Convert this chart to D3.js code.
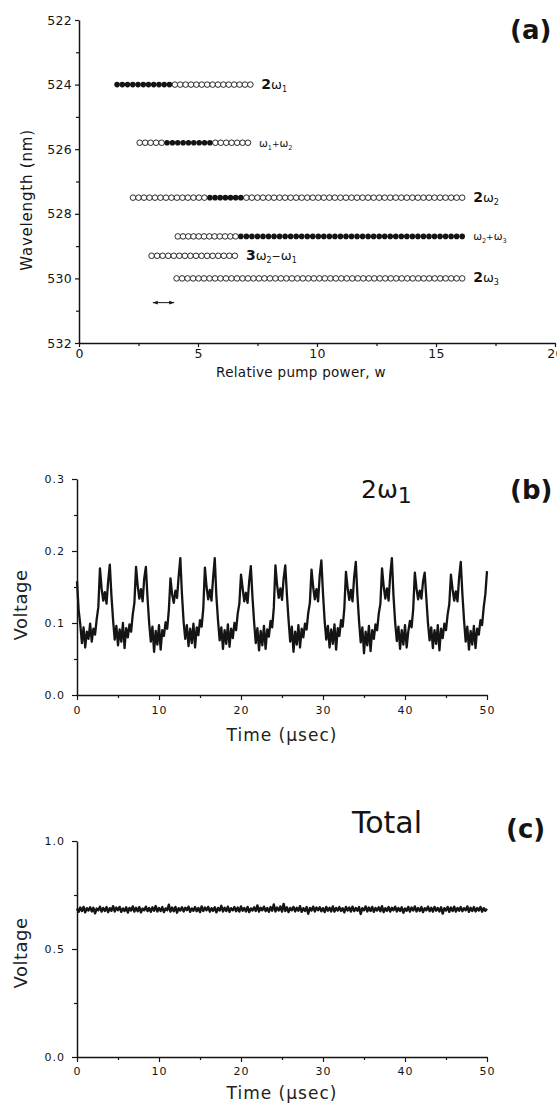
<!DOCTYPE html>
<html>
<head>
<meta charset="utf-8">
<script src="https://cdn.jsdelivr.net/npm/d3@7"></script>
<style>
  html, body { margin: 0; padding: 0; background: #fff; }
  svg { display: block; }
</style>
</head>
<body>
<svg id="fig" width="557" height="1103"></svg>
<script>
// ---------- Panel (a): emission lines vs relative pump power ----------
const rowLambda   = [524.0, 525.8, 527.5, 528.7, 529.3, 530.0];   // nm
const rowStart    = [1.6, 2.55, 2.27, 4.15, 3.05, 4.1];           // w
const rowEnd      = [7.2, 7.1, 16.1, 16.1, 6.55, 16.1];           // w
const filledFrom  = [1.6, 3.7, 5.5, 6.8, null, null];             // w
const filledTo    = [3.8, 5.5, 6.8, 16.1, null, null];            // w
const rowLabels = [
  [["2", "d"], ["ω", "w"], ["1", "s"]],
  [["ω", "w"], ["1", "s"], ["+", "o"], ["ω", "w"], ["2", "s"]],
  [["2", "d"], ["ω", "w"], ["2", "s"]],
  [["ω", "w"], ["2", "s"], ["+", "o"], ["ω", "w"], ["3", "s"]],
  [["3", "d"], ["ω", "w"], ["2", "s"], ["−", "o"], ["ω", "w"], ["1", "s"]],
  [["2", "d"], ["ω", "w"], ["3", "s"]]
];
const spanArrowW = [3.1, 4.0];
const spanArrowLambda = 530.75;
const markerStep = 0.23;
const xTicksA = [0, 5, 10, 15, 20];
const xMinorA = [2.5, 7.5, 12.5, 17.5];
const yTicksA = [522, 524, 526, 528, 530, 532];
const yMinorA = [523, 525, 527, 529, 531];

// ---------- Panel (b): 2ω1 signal, sampled every 0.2 µs ----------
const dtB = 0.2;
const voltage2w1 = [
  0.158,0.118,0.098,0.072,0.094,0.066,0.088,0.078,0.099,0.074,0.092,0.084,0.105,0.122,
  0.176,0.148,0.131,0.143,0.127,0.158,0.181,
  0.138,0.104,0.077,0.096,0.069,0.091,0.074,0.100,0.065,0.093,0.080,0.098,
  0.088,0.112,0.128,0.178,0.152,0.134,0.147,0.130,0.162,0.178,
  0.135,0.100,0.074,0.095,0.060,0.089,0.070,0.097,0.063,0.090,0.082,
  0.101,0.092,0.118,0.162,0.140,0.128,0.145,0.135,0.165,0.190,
  0.140,0.102,0.078,0.097,0.068,0.092,0.072,0.099,0.066,0.094,0.083,
  0.104,0.095,0.120,0.177,0.150,0.133,0.146,0.131,0.163,0.190,
  0.137,0.103,0.076,0.094,0.064,0.090,0.071,0.098,0.067,0.092,0.079,0.100,
  0.090,0.113,0.127,0.167,0.148,0.130,0.142,0.128,0.158,0.179,
  0.136,0.101,0.072,0.093,0.062,0.089,0.069,0.096,0.064,0.091,0.081,
  0.103,0.094,0.121,0.180,0.153,0.135,0.148,0.132,0.162,0.180,
  0.139,0.104,0.074,0.095,0.060,0.088,0.070,0.097,0.066,0.092,0.080,0.099,
  0.091,0.114,0.128,0.174,0.150,0.133,0.147,0.130,0.166,0.187,
  0.141,0.103,0.077,0.096,0.066,0.091,0.071,0.098,0.063,0.093,0.082,
  0.104,0.095,0.120,0.171,0.149,0.132,0.146,0.130,0.164,0.185,
  0.138,0.102,0.073,0.094,0.058,0.088,0.069,0.096,0.061,0.090,0.078,0.098,
  0.090,0.113,0.127,0.176,0.151,0.134,0.148,0.131,0.167,0.190,
  0.137,0.101,0.075,0.095,0.064,0.090,0.070,0.097,0.066,0.088,
  0.103,0.094,0.119,0.170,0.148,0.133,0.145,0.134,0.158,0.170,
  0.135,0.100,0.076,0.094,0.065,0.090,0.071,0.097,0.062,0.092,0.079,0.099,
  0.090,0.112,0.126,0.167,0.147,0.131,0.144,0.130,0.163,0.185,
  0.140,0.104,0.074,0.095,0.063,0.089,0.070,0.096,0.065,0.092,0.084,
  0.104,0.097,0.122,0.140,0.172
];
const xTicksB = [0, 10, 20, 30, 40, 50];
const xMinorB = [5, 15, 25, 35, 45];
const yTicksB = [0, 0.1, 0.2, 0.3];
const yMinorB = [0.05, 0.15, 0.25];

// ---------- Panel (c): total signal, sampled every 0.2 µs ----------
const dtC = 0.2;
const voltageTotal = [
  0.688,0.672,0.692,0.676,0.695,0.670,0.689,0.678,0.693,0.674,
  0.691,0.665,0.687,0.679,0.696,0.673,0.690,0.676,0.694,0.671,
  0.689,0.677,0.698,0.674,0.692,0.680,0.695,0.672,0.688,0.676,
  0.693,0.669,0.690,0.678,0.697,0.673,0.691,0.675,0.694,0.670,
  0.687,0.679,0.696,0.675,0.690,0.672,0.693,0.677,0.699,0.674,
  0.690,0.676,0.694,0.671,0.688,0.679,0.705,0.673,0.692,0.675,
  0.695,0.668,0.689,0.678,0.693,0.674,0.691,0.680,0.696,0.672,
  0.688,0.677,0.694,0.675,0.690,0.671,0.697,0.676,0.692,0.679,
  0.695,0.673,0.689,0.677,0.693,0.670,0.690,0.678,0.700,0.674,
  0.691,0.676,0.696,0.672,0.689,0.679,0.694,0.675,0.692,0.673,
  0.697,0.677,0.690,0.674,0.695,0.671,0.688,0.678,0.693,0.676,
  0.702,0.673,0.691,0.679,0.696,0.675,0.690,0.672,0.694,0.677,
  0.706,0.674,0.692,0.678,0.697,0.673,0.709,0.676,0.693,0.671,
  0.690,0.679,0.695,0.674,0.691,0.677,0.698,0.672,0.689,0.676,
  0.694,0.663,0.690,0.678,0.696,0.674,0.692,0.680,0.693,0.675,
  0.689,0.671,0.695,0.677,0.691,0.674,0.697,0.673,0.690,0.678,
  0.694,0.676,0.689,0.670,0.695,0.678,0.692,0.673,0.696,0.675,
  0.690,0.677,0.694,0.662,0.689,0.679,0.697,0.674,0.692,0.676,
  0.695,0.672,0.690,0.678,0.693,0.675,0.698,0.671,0.689,0.677,
  0.694,0.673,0.691,0.679,0.696,0.674,0.690,0.676,0.693,0.668,
  0.688,0.677,0.695,0.673,0.692,0.678,0.697,0.674,0.690,0.676,
  0.694,0.671,0.689,0.679,0.696,0.675,0.691,0.673,0.695,0.677,
  0.690,0.674,0.693,0.664,0.689,0.678,0.695,0.672,0.692,0.676,
  0.696,0.673,0.690,0.677,0.694,0.675,0.689,0.679,0.697,0.672,
  0.691,0.676,0.694,0.674,0.690,0.678,0.695,0.673,0.689,0.677,
  0.686
];
const xTicksC = [0, 10, 20, 30, 40, 50];
const xMinorC = [5, 15, 25, 35, 45];
const yTicksC = [0, 0.5, 1.0];
const yMinorC = [0.25, 0.75];

// ---------------------------------------------------------------------
const svg = d3.select("#fig");
const INK = "#141414";

// Draws left and bottom axes with major/minor ticks.
function drawAxes(g, x, y, o) {
  const yBottom = d3.max(y.range());
  const xLeft = d3.min(x.range());
  const bx = g.append("g").attr("transform", `translate(0,${yBottom})`);
  bx.append("g").call(d3.axisBottom(x).tickValues(o.xMinor).tickSize(o.minor).tickFormat(""))
    .call(s => s.select(".domain").remove());
  bx.append("g").call(d3.axisBottom(x).tickValues(o.xMajor).tickSize(o.major)
      .tickSizeOuter(0).tickPadding(o.xPad).tickFormat(o.xFmt));
  const ly = g.append("g").attr("transform", `translate(${xLeft},0)`);
  ly.append("g").call(d3.axisLeft(y).tickValues(o.yMinor).tickSize(o.minor).tickFormat(""))
    .call(s => s.select(".domain").remove());
  ly.append("g").call(d3.axisLeft(y).tickValues(o.yMajor).tickSize(o.major)
      .tickSizeOuter(0).tickPadding(o.yPad).tickFormat(o.yFmt));
  g.selectAll(".domain").attr("stroke", INK).attr("stroke-width", 1.5);
  g.selectAll(".tick line").attr("stroke", INK).attr("stroke-width", 1.2);
  g.selectAll(".tick text")
    .attr("fill", INK)
    .style("font-family", o.font)
    .style("font-size", o.fontSize + "px")
    .style("letter-spacing", o.spacing + "px");
}

// ---------------- Panel (a) ----------------
const gA = svg.append("g");
const xA = d3.scaleLinear([0, 20], [79, 555]);
const yA = d3.scaleLinear([522, 532], [20, 343]);
drawAxes(gA, xA, yA, {
  xMajor: xTicksA, xMinor: xMinorA, yMajor: yTicksA, yMinor: yMinorA,
  major: 4, minor: 3, xPad: 2, yPad: 3,
  xFmt: d3.format("d"), yFmt: d3.format("d"),
  font: "DejaVu Sans", fontSize: 12.5, spacing: 0.3
});

gA.append("text")
  .attr("transform", `translate(32,${200}) rotate(-90)`)
  .attr("text-anchor", "middle")
  .style("font-family", "DejaVu Sans").style("font-size", "15px")
  .style("letter-spacing", "0.8px").attr("fill", INK)
  .text("Wavelength (nm)");
gA.append("text")
  .attr("x", 301).attr("y", 377).attr("text-anchor", "middle")
  .style("font-family", "DejaVu Sans").style("font-size", "13.5px")
  .style("letter-spacing", "0.3px").attr("fill", INK)
  .text("Relative pump power, w");
gA.append("text")
  .attr("x", 510).attr("y", 39)
  .style("font-family", "DejaVu Sans").style("font-weight", "bold")
  .style("font-size", "26px").attr("fill", INK)
  .text("(a)");

// markers along each operating range
function spread(a, b, includeA, includeB) {
  const n = Math.max(1, Math.round((b - a) / markerStep));
  const pts = [];
  for (let i = includeA ? 0 : 1; i <= (includeB ? n : n - 1); i++) pts.push(a + (b - a) * i / n);
  return pts;
}
const rows = rowLambda.map((lam, i) => {
  const open = [], filled = [];
  if (filledFrom[i] == null) {
    open.push(...spread(rowStart[i], rowEnd[i], true, true));
  } else {
    if (filledFrom[i] > rowStart[i]) open.push(...spread(rowStart[i], filledFrom[i], true, false));
    filled.push(...spread(filledFrom[i], filledTo[i], true, true));
    if (filledTo[i] < rowEnd[i]) open.push(...spread(filledTo[i], rowEnd[i], false, true));
  }
  return { lam, open, filled, end: rowEnd[i], label: rowLabels[i] };
});

rows.forEach(r => {
  const g = gA.append("g");
  g.selectAll("circle.o").data(r.open).join("circle")
    .attr("cx", d => xA(d)).attr("cy", yA(r.lam)).attr("r", 2.8)
    .attr("fill", "#fff").attr("stroke", INK).attr("stroke-width", 0.9);
  g.selectAll("circle.f").data(r.filled).join("circle")
    .attr("cx", d => xA(d)).attr("cy", yA(r.lam)).attr("r", 2.8)
    .attr("fill", INK);

  const compact = r.label[0][1] === "w";
  const size = { d: 14, w: compact ? 10.5 : 13, s: compact ? 6.5 : 8, o: compact ? 9 : 11 };
  const t = g.append("text")
    .attr("x", xA(r.end) + 11).attr("y", yA(r.lam) + 4)
    .style("font-family", "DejaVu Sans").attr("fill", INK);
  let shifted = false;
  r.label.forEach(([txt, role]) => {
    const sp = t.append("tspan").text(txt).style("font-size", size[role] + "px");
    if (role === "d") sp.style("font-weight", "bold");
    if (role === "s" && !shifted) { sp.attr("dy", 3); shifted = true; }
    else if (role !== "s" && shifted) { sp.attr("dy", -3); shifted = false; }
  });
});

// resolution bar
const defs = svg.append("defs");
["start", "end"].forEach(k => {
  defs.append("marker").attr("id", "ah-" + k)
    .attr("viewBox", "0 0 6 6").attr("refX", k === "end" ? 6 : 0).attr("refY", 3)
    .attr("markerWidth", 5).attr("markerHeight", 5).attr("orient", "auto")
    .append("path")
    .attr("d", k === "end" ? "M0,0.8 L6,3 L0,5.2 Z" : "M6,0.8 L0,3 L6,5.2 Z")
    .attr("fill", INK);
});
gA.append("line")
  .attr("x1", xA(spanArrowW[0])).attr("x2", xA(spanArrowW[1]))
  .attr("y1", yA(spanArrowLambda)).attr("y2", yA(spanArrowLambda))
  .attr("stroke", INK).attr("stroke-width", 1)
  .attr("marker-start", "url(#ah-start)").attr("marker-end", "url(#ah-end)");

// ---------------- Panel (b) ----------------
const gB = svg.append("g");
const xB = d3.scaleLinear([0, 50], [77, 487]);
const yB = d3.scaleLinear([0, 0.3], [695, 479]);
drawAxes(gB, xB, yB, {
  xMajor: xTicksB, xMinor: xMinorB, yMajor: yTicksB, yMinor: yMinorB,
  major: 5, minor: 3, xPad: 6, yPad: 7,
  xFmt: d3.format("d"), yFmt: d3.format(".1f"),
  font: "DejaVu Sans", fontSize: 11, spacing: 1
});
gB.append("path")
  .datum(voltage2w1)
  .attr("d", d3.line().x((d, i) => xB(i * dtB)).y(d => yB(d)))
  .attr("fill", "none").attr("stroke", INK).attr("stroke-width", 2.3)
  .attr("stroke-linejoin", "round");
gB.append("text")
  .attr("transform", "translate(27,605) rotate(-90)").attr("text-anchor", "middle")
  .style("font-family", "DejaVu Sans").style("font-size", "18px")
  .style("letter-spacing", "0.5px").attr("fill", "#222")
  .text("Voltage");
gB.append("text")
  .attr("x", 282).attr("y", 741).attr("text-anchor", "middle")
  .style("font-family", "DejaVu Sans").style("font-size", "17px")
  .style("letter-spacing", "1px").attr("fill", "#222")
  .text("Time (μsec)");
const lb = gB.append("text").attr("x", 361).attr("y", 498)
  .style("font-family", "DejaVu Sans").style("font-size", "25px").attr("fill", INK);
lb.append("tspan").text("2ω");
lb.append("tspan").text("1").attr("dy", 5).style("font-size", "22px");
gB.append("text")
  .attr("x", 510).attr("y", 499)
  .style("font-family", "DejaVu Sans").style("font-weight", "bold")
  .style("font-size", "26px").attr("fill", INK)
  .text("(b)");

// ---------------- Panel (c) ----------------
const gC = svg.append("g");
const xC = d3.scaleLinear([0, 50], [77, 487]);
const yC = d3.scaleLinear([0, 1], [1057, 841]);
drawAxes(gC, xC, yC, {
  xMajor: xTicksC, xMinor: xMinorC, yMajor: yTicksC, yMinor: yMinorC,
  major: 5, minor: 3, xPad: 5, yPad: 7,
  xFmt: d3.format("d"), yFmt: d3.format(".1f"),
  font: "DejaVu Sans", fontSize: 11, spacing: 1
});
gC.append("path")
  .datum(voltageTotal)
  .attr("d", d3.line().x((d, i) => xC(i * dtC)).y(d => yC(d)))
  .attr("fill", "none").attr("stroke", INK).attr("stroke-width", 2.4)
  .attr("stroke-linejoin", "round");
gC.append("text")
  .attr("transform", "translate(27,953) rotate(-90)").attr("text-anchor", "middle")
  .style("font-family", "DejaVu Sans").style("font-size", "18px")
  .style("letter-spacing", "0.5px").attr("fill", "#222")
  .text("Voltage");
gC.append("text")
  .attr("x", 282).attr("y", 1099).attr("text-anchor", "middle")
  .style("font-family", "DejaVu Sans").style("font-size", "17px")
  .style("letter-spacing", "1px").attr("fill", "#222")
  .text("Time (μsec)");
gC.append("text")
  .attr("x", 352).attr("y", 833)
  .style("font-family", "DejaVu Sans").style("font-size", "30px").attr("fill", INK)
  .text("Total");
gC.append("text")
  .attr("x", 506).attr("y", 838)
  .style("font-family", "DejaVu Sans").style("font-weight", "bold")
  .style("font-size", "26px").attr("fill", INK)
  .text("(c)");
</script>
</body>
</html>
